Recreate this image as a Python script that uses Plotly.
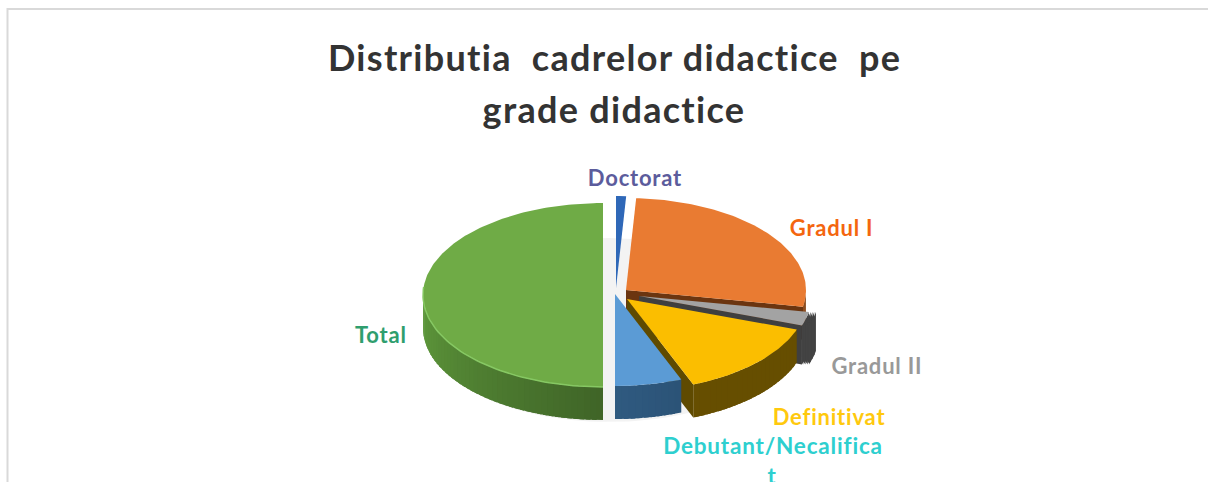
import math
import plotly.graph_objects as go

# ---- data ----
categories = ["Doctorat", "Gradul I", "Gradul II", "Definitivat", "Debutant/Necalificat", "Total"]
values = [0.9, 27.0, 2.5, 13.6, 6.0, 50.0]
title_lines = ["Distributia  cadrelor didactice  pe", "grade didactice"]

# ---- styles: 3D pie look ----
top_colors = ["#2f68b8", "#e97b32", "#a3a3a3", "#fbbe00", "#5b9bd5", "#6fab46"]
edge_colors = ["#1f4a80", "#6b3510", "#3f3f3f", "#5f4a00", "#1f3a56", "#3f6427"]
rim_near = ["#1f4a80", "#8a4a1c", "#434343", "#664e00", "#2f5a80", "#3f6427"]
rim_far = ["#1f4a80", "#8a4a1c", "#434343", "#664e00", "#1f3a56", "#5f9a3c"]
offset_x = [8, 18, 31, 19, 7, -5]
offset_y = [-5, -3, 3, 6, 1, 2]
scale = [1, 1, 0.96, 1, 1, 1]
has_wall = [False, True, True, True, True, True]
wall_shift = [0, 0, 7, 0, 0, 0]
wall_extra = [0, 0, 6, 0, 0, 0]
draw_order = [0, 1, 2, 3, 4, 5]
label_x = [635, 831, 877, 829, 773, 381]
label_y = [177, 227, 365, 416, 445, 334]
label_colors = ["#5c5c9c", "#f4660f", "#999999", "#ffc90e", "#2ecfcf", "#2f9e6e"]
label_size = [22, 22, 22, 22, 22.5, 22]

CX, CY, RX, RY, DEPTH = 608, 293, 180, 92, 33

fig = go.Figure()


def poly(xs, ys, color, line=0.0):
    fig.add_trace(go.Scatter(x=xs, y=ys, mode="lines", fill="toself", fillcolor=color,
                             line=dict(color=color, width=line), hoverinfo="skip", showlegend=False))


def mix(c1, c2, t):
    a = [int(c1[i:i + 2], 16) for i in (1, 3, 5)]
    b = [int(c2[i:i + 2], 16) for i in (1, 3, 5)]
    return "rgb(%d,%d,%d)" % tuple(round(a[k] + (b[k] - a[k]) * t) for k in range(3))


def pt(cx, cy, s, deg):
    r = math.radians(deg)
    return cx + RX * s * math.sin(r), cy - RY * s * math.cos(r)


def arc(cx, cy, s, a, b, n):
    return [pt(cx, cy, s, a + (b - a) * i / n) for i in range(n + 1)]


# ground shadow
sh = arc(609, 330, 1, 0, 360, 120)
poly([p[0] + (p[0] - 609) * 0.022 for p in sh], [p[1] for p in sh], "#f3f3f3")

total = sum(values)
starts = []
acc = 0.0
for v in values:
    starts.append(acc)
    acc += v

for i in draw_order:
    a = starts[i] / total * 360
    b = (starts[i] + values[i]) / total * 360
    cx, cy, s = CX + offset_x[i], CY + offset_y[i], scale[i]
    depth = DEPTH + wall_extra[i]
    if has_wall[i]:
        # radial cut face that looks towards the viewer
        if math.sin(math.radians(b)) > 1e-6:
            e = pt(cx, cy, s, b)
            poly([cx, e[0], e[0], cx], [cy, e[1], e[1] + depth, cy + depth], edge_colors[i])
        # outer wall, front part only; overlapping shaded segments hide the seams
        lo = a if wall_shift[i] else max(a, 90)
        hi = min(b, 270)
        if hi > lo:
            n = max(1, int((hi - lo) / 2))
            # a wall that leans outward is swept sideways so no gap opens under the top face
            sweep = [wall_shift[i] * j / 4 for j in range(5)] if wall_shift[i] else [0]
            for dx in sweep:
                for k in range(n):
                    a0 = lo + (hi - lo) * k / n
                    a1 = min(hi, lo + (hi - lo) * (k + 1) / n + 1.5)
                    t = abs(((a0 + a1) / 2 - 180)) / 90
                    c = mix(rim_near[i], rim_far[i], t)
                    seg = arc(cx + dx, cy, s, a0, a1, 3)
                    poly([p[0] for p in seg] + [p[0] for p in seg[::-1]],
                         [p[1] for p in seg] + [p[1] + depth for p in seg[::-1]], c)
    # top face
    top = arc(cx, cy, s, a, b, max(3, int(b - a)))
    poly([cx] + [p[0] for p in top] + [cx], [cy] + [p[1] for p in top] + [cy], top_colors[i])
    if categories[i] == "Total":
        rim = arc(cx, cy, s, 180, 275, 60)
        fig.add_trace(go.Scatter(x=[p[0] for p in rim], y=[p[1] for p in rim], mode="lines",
                                 line=dict(color="#86c863", width=1.5), hoverinfo="skip", showlegend=False))

annotations = []
for ln, yy in zip(title_lines, [57, 109]):
    annotations.append(dict(x=614, y=yy, xref="x", yref="y", text="<b>%s</b>" % ln.replace("  ", "\u00a0\u00a0"),
                            showarrow=False, font=dict(family="Lato", size=36, color="#333333")))
for i, name in enumerate(categories):
    if name == "Debutant/Necalificat":
        annotations.append(dict(x=label_x[i], y=label_y[i], xref="x", yref="y", text="<b>Debutant/Necalifica</b>",
                                showarrow=False, font=dict(family="Lato", size=label_size[i], color=label_colors[i])))
        annotations.append(dict(x=label_x[i] - 1, y=label_y[i] + 30, xref="x", yref="y", text="<b>t</b>",
                                showarrow=False, font=dict(family="Lato", size=label_size[i], color=label_colors[i])))
    else:
        annotations.append(dict(x=label_x[i], y=label_y[i], xref="x", yref="y", text="<b>%s</b>" % name,
                                showarrow=False, font=dict(family="Lato", size=label_size[i], color=label_colors[i])))

fig.update_layout(
    width=1208, height=482, margin=dict(l=0, r=0, t=0, b=0),
    paper_bgcolor="white", plot_bgcolor="white", showlegend=False,
    xaxis=dict(range=[0, 1208], visible=False, fixedrange=True),
    yaxis=dict(range=[482, 0], visible=False, fixedrange=True),
    annotations=annotations,
    shapes=[
        dict(type="line", xref="x", yref="y", x0=7.5, y0=9, x1=1208, y1=9, line=dict(color="#d9d9d9", width=2)),
        dict(type="line", xref="x", yref="y", x0=7.5, y0=8, x1=7.5, y1=482, line=dict(color="#d9d9d9", width=2)),
    ],
)
post = """
document.documentElement.style.overflow='hidden';
document.body.style.margin='0';
var st=document.createElement('style');
st.textContent='text{letter-spacing:.036em;font-variant-ligatures:none}';
document.head.appendChild(st);
Plotly.relayout(document.getElementById('{plot_id}'),{});
"""
fig.write_html("out.html", config={"displayModeBar": False}, post_script=post)
